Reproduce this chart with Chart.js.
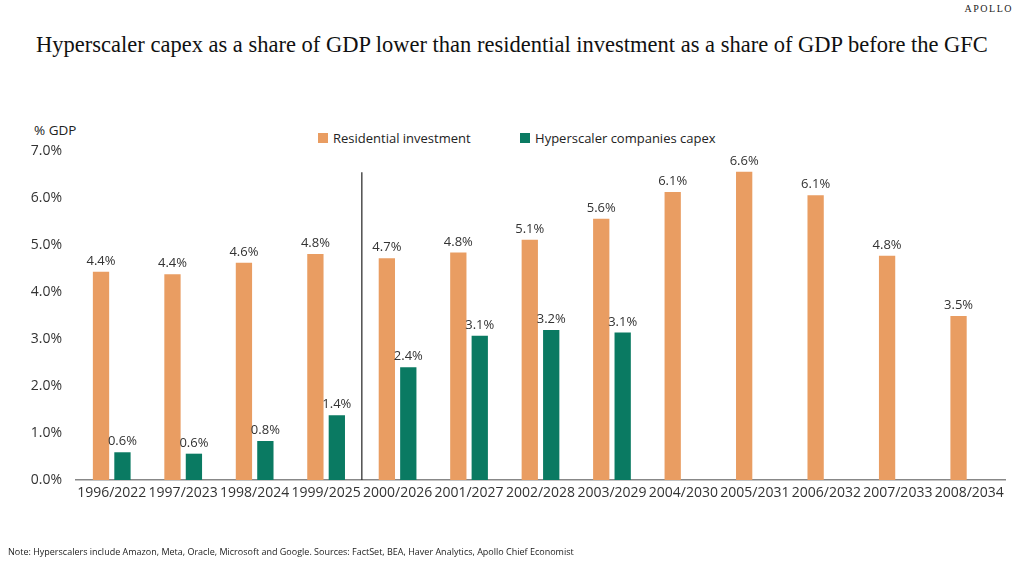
<!DOCTYPE html>
<html>
<head>
<meta charset="utf-8">
<script src="https://cdn.jsdelivr.net/npm/chart.js@4"></script>
<style>
  body { margin: 0; background: #fff; width: 1024px; height: 564px; overflow: hidden; position: relative; font-family: "Open Sans", sans-serif; }
  #wrap { position: absolute; left: 0; top: 0; width: 1024px; height: 564px; }
  .title { position: absolute; left: 0; width: 1024px; top: 32px; text-align: center; font-family: "Liberation Serif", serif; font-size: 22.5px; color: #111; }
  .brand { position: absolute; right: 11px; top: 3px; font-family: "Liberation Serif", serif; font-size: 10px; letter-spacing: 1.5px; color: #222; }
  .unit { position: absolute; left: 34px; top: 121px; font-size: 13.5px; color: #222; }
  .legend { position: absolute; top: 127px; left: 318px; font-size: 13px; color: #222; }
  .legend span { display: inline-block; vertical-align: middle; }
  .box { width: 10px; height: 10px; margin-right: 5px; }
  .note { position: absolute; left: 8px; top: 545px; font-size: 9px; color: #222; }
</style>
</head>
<body>
<div class="brand">APOLLO</div>
<div class="title">Hyperscaler capex as a share of GDP lower than residential investment as a share of GDP before the GFC</div>
<div class="unit">% GDP</div>
<div class="legend">
  <span class="box" style="background:#E99D62"></span><span style="margin-right:46px">Residential investment</span>
  <span class="box" style="background:#0A7A62"></span><span>Hyperscaler companies capex</span>
</div>
<div id="wrap"><canvas id="chart" width="1024" height="564"></canvas></div>
<div class="note">Note: Hyperscalers include Amazon, Meta, Oracle, Microsoft and Google. Sources: FactSet, BEA, Haver Analytics, Apollo Chief Economist</div>
<script>
const categories = ["1996/2022", "1997/2023", "1998/2024", "1999/2025", "2000/2026", "2001/2027", "2002/2028", "2003/2029", "2004/2030", "2005/2031", "2006/2032", "2007/2033", "2008/2034"];
const residential = [4.43, 4.38, 4.62, 4.81, 4.72, 4.84, 5.11, 5.56, 6.13, 6.56, 6.06, 4.77, 3.49];
const hyperscaler = [0.59, 0.56, 0.83, 1.38, 2.40, 3.07, 3.19, 3.14, null, null, null, null, null];
const yTicks = [0, 1, 2, 3, 4, 5, 6, 7];

// value labels above each bar
const barLabels = {
  id: 'barLabels',
  afterDatasetsDraw(chart) {
    const ctx = chart.ctx;
    ctx.save();
    ctx.font = '13px "Open Sans", sans-serif';
    ctx.fillStyle = '#333';
    ctx.textAlign = 'center';
    ctx.textBaseline = 'bottom';
    chart.data.datasets.forEach((ds, i) => {
      chart.getDatasetMeta(i).data.forEach((bar, j) => {
        const v = ds.data[j];
        if (v == null) return;
        ctx.fillText(v.toFixed(1) + '%', bar.x, bar.y - 4);
      });
    });
    ctx.restore();
  }
};

// separator between 1999 and 2000
const divider = {
  id: 'divider',
  afterDatasetsDraw(chart) {
    const x = chart.scales.x;
    const y = chart.scales.y;
    const px = (x.getPixelForTick(3) + x.getPixelForTick(4)) / 2;
    const ctx = chart.ctx;
    ctx.save();
    ctx.strokeStyle = '#222';
    ctx.lineWidth = 1.2;
    ctx.beginPath();
    ctx.moveTo(px, y.getPixelForValue(6.55));
    ctx.lineTo(px, y.getPixelForValue(0));
    ctx.stroke();
    ctx.restore();
  }
};

new Chart(document.getElementById('chart').getContext('2d'), {
  type: 'bar',
  data: {
    labels: categories,
    datasets: [
      { label: 'Residential investment', data: residential, backgroundColor: '#E99D62' },
      { label: 'Hyperscaler companies capex', data: hyperscaler, backgroundColor: '#0A7A62' }
    ]
  },
  options: {
    responsive: false,
    animation: false,
    devicePixelRatio: 1,
    categoryPercentage: 0.6,
    barPercentage: 0.76,
    layout: { padding: { left: 0, right: 19, top: 151, bottom: 54 } },
    plugins: { legend: { display: false }, tooltip: { enabled: false } },
    scales: {
      x: {
        grid: { display: false, drawTicks: false },
        border: { display: true, color: '#888', width: 1.5 },
        ticks: { color: '#333', font: { family: 'Open Sans', size: 14 }, padding: 5, maxRotation: 0, autoSkip: false },
        afterFit(s) { s.height = 30; }
      },
      y: {
        min: 0, max: 7,
        afterBuildTicks(s) { s.ticks = yTicks.map(v => ({ value: v })); },
        grid: { display: false, drawTicks: false },
        border: { display: false },
        ticks: { color: '#333', font: { family: 'Open Sans', size: 14 }, padding: 14, callback: v => v.toFixed(1) + '%' },
        afterFit(s) { s.width = 76; }
      }
    }
  },
  plugins: [barLabels, divider]
});
</script>
</body>
</html>
